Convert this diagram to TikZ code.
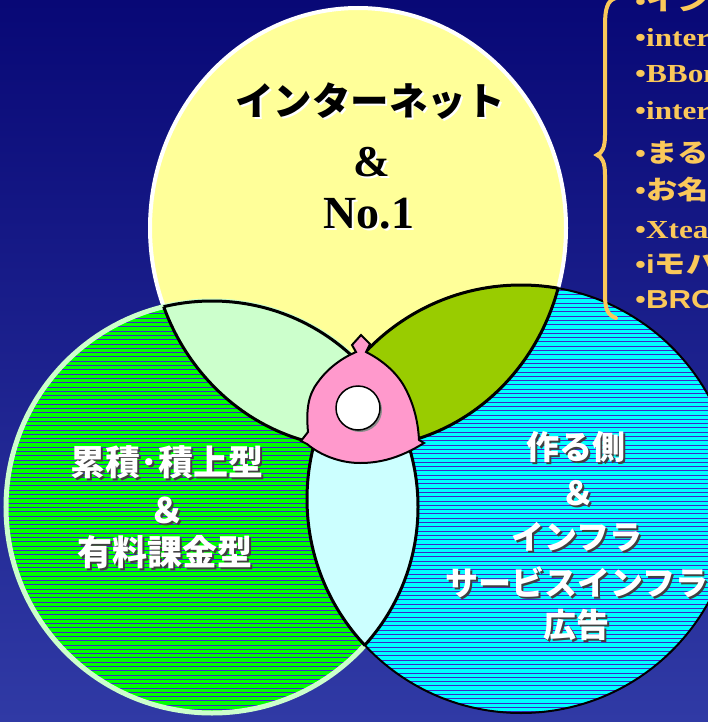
\documentclass[tikz,border=0pt]{standalone}
\usepackage{fontspec}
\setmainfont{Liberation Serif}
\newfontfamily\jp{Noto Sans CJK JP}
\newfontfamily\lsans{Liberation Sans}
\usetikzlibrary{calc}
\definecolor{bgtop}{RGB}{8,8,118}
\definecolor{bgbot}{RGB}{48,58,165}
\definecolor{yel}{RGB}{255,255,153}
\definecolor{grn}{RGB}{0,255,0}
\definecolor{lgrn}{RGB}{204,255,204}
\definecolor{cyn}{RGB}{0,255,255}
\definecolor{lcyn}{RGB}{204,255,255}
\definecolor{olive}{RGB}{153,204,0}
\definecolor{pnk}{RGB}{255,153,204}
\definecolor{stripe}{RGB}{60,40,200}
\definecolor{gold}{RGB}{250,200,90}
\newcommand\wide[1]{\scalebox{1.2}[1]{#1}}
\begin{document}
\begin{tikzpicture}[x=1pt,y=-1pt,
  outl/.style={draw=black,line width=3},
  toptxt/.style={inner sep=0,text=black},
  wtxt/.style={inner sep=0,text=white,font=\jp\bfseries\fontsize{35}{35}\selectfont},
  wsh/.style={inner sep=0,text=black!75,font=\jp\bfseries\fontsize{35}{35}\selectfont},
  ltxt/.style={inner sep=0,anchor=base west,text=gold,font=\bfseries\fontsize{26}{26}\selectfont}]
\useasboundingbox (0,0) rectangle (708,722);
\clip (0,0) rectangle (708,722);
\shade[top color=bgtop,bottom color=bgbot] (0,0) rectangle (708,722);
% geometry
\def\yel{(358,228) ellipse [x radius=208,y radius=220]}
\def\grc{(212,507) circle [radius=206]}
\def\cyc{(521,499) circle [radius=214]}
% yellow
\fill[yel] \yel;
\draw[white,line width=4] \yel;
% green striped
\begin{scope}
  \clip \grc;
  \fill[grn] (0,290) rectangle (430,720);
  \foreach \yy in {301,305.3,...,716} \draw[stripe,line width=0.9] (0,\yy) -- (430,\yy);
\end{scope}
\draw[lgrn,line width=5] \grc;
% cyan striped
\begin{scope}
  \clip \cyc;
  \fill[cyn] (300,280) rectangle (740,720);
  \foreach \yy in {286,290.3,...,716} \draw[stripe,line width=0.9] (300,\yy) -- (740,\yy);
\end{scope}
\draw[black,line width=2] \cyc;
% lenses
\begin{scope}\clip \yel; \fill[lgrn] \grc; \end{scope}
\begin{scope}\clip \yel; \fill[olive] \cyc; \end{scope}
\begin{scope}\clip \grc; \fill[lcyn] \cyc; \end{scope}
\begin{scope}\clip \yel; \draw[outl] \grc; \draw[outl] \cyc; \end{scope}
\begin{scope}\clip \grc; \draw[outl] \yel; \draw[outl] \cyc; \end{scope}
\begin{scope}\clip \cyc; \draw[outl] \yel; \draw[outl] \grc; \end{scope}
% pink centre
\filldraw[fill=pnk,draw=black,line width=2]
  (356,352) -- (352,345) -- (361,335) -- (370,344) -- (366,352)
  .. controls (382,360) and (396,372) .. (404,386)
  .. controls (413,402) and (418,420) .. (419,440)
  -- (424,443)
  .. controls (400,458) and (380,463) .. (360,463)
  .. controls (340,463) and (320,455) .. (307,444)
  -- (301,441) -- (308,432)
  .. controls (306,410) and (308,395) .. (318,382)
  .. controls (328,368) and (342,358) .. (356,352) -- cycle;
\fill[black!45] (360,410) circle [radius=22];
\node[circle,fill=white,draw=black,line width=1.5,minimum size=44,inner sep=0] (dot) at (358,408) {};
% top texts
\node[toptxt,text=white,font=\jp\bfseries\fontsize{38.5}{38.5}\selectfont] (t1s) at (372,103) {インターネット};
\node[toptxt,font=\jp\bfseries\fontsize{38.5}{38.5}\selectfont] (t1) at (370,101) {インターネット};
\node[toptxt,text=white,font=\bfseries\fontsize{44}{44}\selectfont] (t2s) at (374,164) {\&};
\node[toptxt,font=\bfseries\fontsize{44}{44}\selectfont] (t2) at (372,162) {\&};
\node[toptxt,text=white,font=\bfseries\fontsize{46}{46}\selectfont] (t3s) at (371,216) {No.1};
\node[toptxt,font=\bfseries\fontsize{46}{46}\selectfont] (t3) at (369,214) {No.1};
% left texts
\node[wsh] (l1s) at (169,464) {累積･積上型};
\node[wtxt] (l1) at (167,462) {累積･積上型};
\node[wsh] (l2s) at (169,512) {＆};
\node[wtxt] (l2) at (167,510) {＆};
\node[wsh] (l3s) at (167,554) {有料課金型};
\node[wtxt] (l3) at (165,552) {有料課金型};
% right texts
\begin{scope}[wtxt/.append style={font=\jp\bfseries\fontsize{33}{33}\selectfont},wsh/.append style={font=\jp\bfseries\fontsize{33}{33}\selectfont}]
\node[wsh] (r1s) at (578,449) {作る側};
\node[wtxt] (r1) at (576,447) {作る側};
\node[wsh] (r2s) at (580,495) {＆};
\node[wtxt] (r2) at (578,493) {＆};
\node[wsh] (r3s) at (579,539) {インフラ};
\node[wtxt] (r3) at (577,537) {インフラ};
\node[wsh] (r4s) at (579,584) {サービスインフラ};
\node[wtxt] (r4) at (577,582) {サービスインフラ};
\node[wsh] (r5s) at (578,627) {広告};
\node[wtxt] (r5) at (576,625) {広告};
\end{scope}
% brace
\draw[gold,line width=4,line cap=round]
  (616,-2) .. controls (607,0) and (605,10) .. (605,25) -- (605,135)
  .. controls (605,148) and (602,153) .. (597,155)
  .. controls (602,157) and (605,162) .. (605,175) -- (605,295)
  .. controls (605,310) and (608,315) .. (616,318);
% list
\node[ltxt] (i1) at (635,11) {\wide{•{\jp\bfseries インフォシーク}}};
\node[ltxt] (i2) at (635,47) {\wide{•internet.com}};
\node[ltxt] (i3) at (635,83) {\wide{•BBonline}};
\node[ltxt] (i4) at (635,120) {\wide{•internet Watch}};
\node[ltxt] (i5) at (635,163) {\wide{•{\jp\bfseries まるごと}}};
\node[ltxt] (i6) at (635,200) {\wide{•{\jp\bfseries お名前}.com}};
\node[ltxt] (i7) at (635,238) {\wide{•Xteam}};
\node[ltxt] (i8) at (635,273) {\wide{•{\lsans\bfseries i}{\jp\bfseries モバイル}}};
\node[ltxt] (i9) at (635,308) {\wide{•{\lsans\bfseries BROBA}}};
\end{tikzpicture}
\end{document}
